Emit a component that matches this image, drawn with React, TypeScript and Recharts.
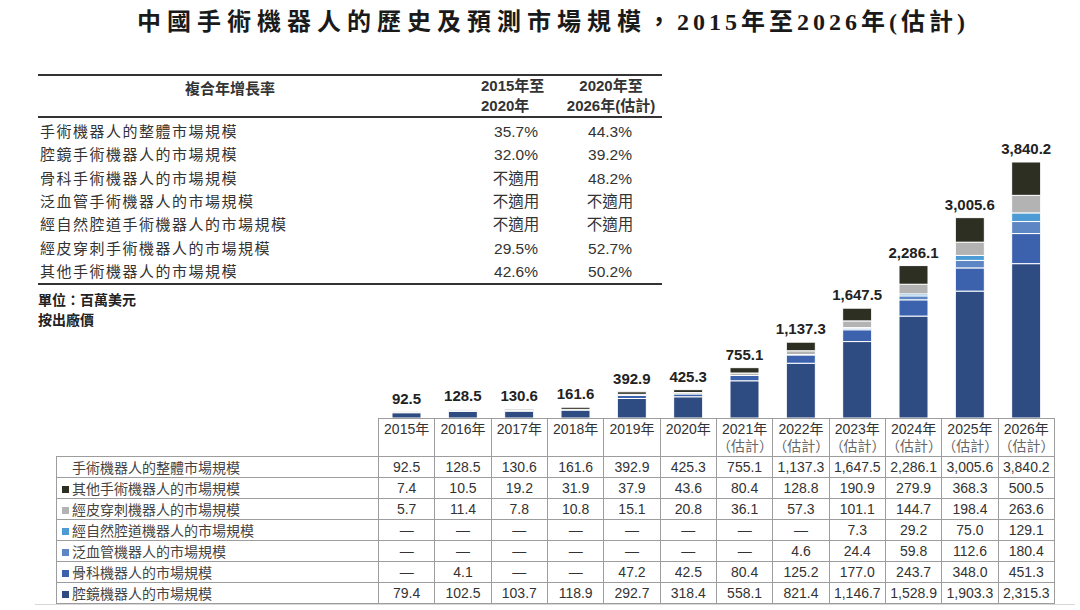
import React from 'react';
import { BarChart, Bar, XAxis, YAxis, LabelList } from 'recharts';

const years = ['2015年', '2016年', '2017年', '2018年', '2019年', '2020年', '2021年', '2022年', '2023年', '2024年', '2025年', '2026年'];
const estimated = [false, false, false, false, false, false, true, true, true, true, true, true];

const totalSize = [92.5, 128.5, 130.6, 161.6, 392.9, 425.3, 755.1, 1137.3, 1647.5, 2286.1, 3005.6, 3840.2];
const otherSize = [7.4, 10.5, 19.2, 31.9, 37.9, 43.6, 80.4, 128.8, 190.9, 279.9, 368.3, 500.5];
const percutaneousSize = [5.7, 11.4, 7.8, 10.8, 15.1, 20.8, 36.1, 57.3, 101.1, 144.7, 198.4, 263.6];
const naturalOrificeSize = [null, null, null, null, null, null, null, null, 7.3, 29.2, 75.0, 129.1];
const panVascularSize = [null, null, null, null, null, null, null, 4.6, 24.4, 59.8, 112.6, 180.4];
const orthopedicSize = [null, 4.1, null, null, 47.2, 42.5, 80.4, 125.2, 177.0, 243.7, 348.0, 451.3];
const laparoscopicSize = [79.4, 102.5, 103.7, 118.9, 292.7, 318.4, 558.1, 821.4, 1146.7, 1528.9, 1903.3, 2315.3];

const cagrLabels = [
  '手術機器人的整體市場規模',
  '腔鏡手術機器人的市場規模',
  '骨科手術機器人的市場規模',
  '泛血管手術機器人的市場規模',
  '經自然腔道手術機器人的市場規模',
  '經皮穿刺手術機器人的市場規模',
  '其他手術機器人的市場規模',
];
const cagr2015to2020 = ['35.7%', '32.0%', '不適用', '不適用', '不適用', '29.5%', '42.6%'];
const cagr2020to2026 = ['44.3%', '39.2%', '48.2%', '不適用', '不適用', '52.7%', '50.2%'];

const COLORS = {
  other: '#2d2f22',
  percutaneous: '#b3b3b3',
  naturalOrifice: '#4c9bd5',
  panVascular: '#5c86c4',
  orthopedic: '#3c62ae',
  laparoscopic: '#2e4b82',
};

const tableRows = [
  { label: '手術機器人的整體市場規模', values: totalSize, color: null },
  { label: '其他手術機器人的市場規模', values: otherSize, color: COLORS.other },
  { label: '經皮穿刺機器人的市場規模', values: percutaneousSize, color: COLORS.percutaneous },
  { label: '經自然腔道機器人的市場規模', values: naturalOrificeSize, color: COLORS.naturalOrifice },
  { label: '泛血管機器人的市場規模', values: panVascularSize, color: COLORS.panVascular },
  { label: '骨科機器人的市場規模', values: orthopedicSize, color: COLORS.orthopedic },
  { label: '腔鏡機器人的市場規模', values: laparoscopicSize, color: COLORS.laparoscopic },
];

const chartData = years.map((year, i) => ({
  year,
  total: totalSize[i],
  other: otherSize[i],
  percutaneous: percutaneousSize[i],
  naturalOrifice: naturalOrificeSize[i] ?? 0,
  panVascular: panVascularSize[i] ?? 0,
  orthopedic: orthopedicSize[i] ?? 0,
  laparoscopic: laparoscopicSize[i],
}));

const fmt = (v: number | null) =>
  v == null ? '—' : v.toLocaleString('en-US', { minimumFractionDigits: 1, maximumFractionDigits: 1 });

const SANS = "'Liberation Sans', 'Noto Sans CJK TC', sans-serif";
const BORDER = '1px solid #9d9d9d';

function TotalLabel(props: any) {
  const { x, y, width, value } = props;
  return (
    <text x={x + width / 2} y={y - 8} textAnchor="middle" fontFamily={SANS} fontWeight={700} fontSize={15} fill="#222">
      {fmt(Number(value))}
    </text>
  );
}

function CagrTable() {
  const rowTop = 120;
  const rowH = 23.3;
  const nw: React.CSSProperties = { position: 'absolute', whiteSpace: 'nowrap' };
  return (
    <div style={{ position: 'absolute', left: 0, top: 0, fontFamily: SANS, color: '#333' }}>
      <div style={{ position: 'absolute', left: 38, top: 74, width: 624, borderTop: '2px solid #333' }} />
      <div style={{ ...nw, left: 38, top: 77, width: 384, textAlign: 'center', fontWeight: 700, fontSize: 15 }}>複合年增長率</div>
      <div style={{ ...nw, left: 481, top: 76, fontWeight: 700, fontSize: 15, lineHeight: '20px' }}>
        2015年至<br />2020年
      </div>
      <div style={{ ...nw, left: 551, top: 76, width: 120, textAlign: 'center', fontWeight: 700, fontSize: 15, lineHeight: '20px' }}>
        2020年至<br />2026年(估計)
      </div>
      <div style={{ position: 'absolute', left: 38, top: 116, width: 624, borderTop: '2px solid #333' }} />
      {cagrLabels.map((label, i) => (
        <React.Fragment key={label}>
          <div style={{ ...nw, left: 40, top: rowTop + i * rowH, fontSize: 15, letterSpacing: 1.5, lineHeight: `${rowH}px` }}>{label}</div>
          <div style={{ ...nw, left: 466, width: 100, top: rowTop + i * rowH, textAlign: 'center', fontSize: 15.5, lineHeight: `${rowH}px` }}>{cagr2015to2020[i]}</div>
          <div style={{ ...nw, left: 560, width: 100, top: rowTop + i * rowH, textAlign: 'center', fontSize: 15.5, lineHeight: `${rowH}px` }}>{cagr2020to2026[i]}</div>
        </React.Fragment>
      ))}
      <div style={{ position: 'absolute', left: 38, top: 283, width: 624, borderTop: '2px solid #333' }} />
      <div style={{ ...nw, left: 38, top: 290, fontWeight: 700, fontSize: 14, lineHeight: '20px', color: '#222' }}>
        單位：百萬美元<br />按出廠價
      </div>
    </div>
  );
}

function DataTable() {
  const colW = 676 / 12;
  const cell: React.CSSProperties = { border: BORDER, textAlign: 'center', padding: 0, height: 19.9, fontSize: 14, color: '#333', whiteSpace: 'nowrap' };
  return (
    <table
      style={{
        position: 'absolute', left: 56, top: 418, borderCollapse: 'collapse', tableLayout: 'fixed',
        width: 322 + 676, fontFamily: SANS,
      }}
    >
      <colgroup>
        <col style={{ width: 322 }} />
        {years.map((y) => <col key={y} style={{ width: colW }} />)}
      </colgroup>
      <tbody>
        <tr>
          <td style={{ border: 'none', height: 35, padding: 0 }} />
          {years.map((y, i) => (
            <td key={y} style={{ ...cell, height: 35, verticalAlign: 'top', paddingTop: 2, fontSize: 14, lineHeight: '17px' }}>
              {y}
              {estimated[i] && <div style={{ color: '#666' }}>（估計）</div>}
            </td>
          ))}
        </tr>
        {tableRows.map((row) => (
          <tr key={row.label}>
            <td style={{ ...cell, textAlign: 'left', fontSize: 14, color: '#444', paddingLeft: 5 }}>
              <span style={{ display: 'inline-block', width: 7, height: 7, marginRight: 3, background: row.color ?? 'transparent', verticalAlign: 'middle', position: 'relative', top: -1 }} />
              {row.label}
            </td>
            {row.values.map((v, i) => (
              <td key={i} style={cell}>{fmt(v)}</td>
            ))}
          </tr>
        ))}
      </tbody>
    </table>
  );
}

export default function App() {
  return (
    <div style={{ position: 'absolute', left: 0, top: 0, width: 1080, height: 610, background: '#fff', overflow: 'hidden' }}>
      <div
        style={{
          position: 'absolute', left: 137, top: 7, whiteSpace: 'nowrap', fontFamily: "'Liberation Serif', 'Noto Sans CJK TC', serif",
          fontWeight: 700, fontSize: 24, color: '#1a1a1a', lineHeight: '30px',
        }}
      >
        <span style={{ letterSpacing: 6 }}>中國手術機器人的歷史及預測市場規模，</span>
        <span style={{ letterSpacing: 4 }}>2015年至2026年(估計)</span>
      </div>

      <CagrTable />

      <div style={{ position: 'absolute', left: 378, top: 110 }}>
        <BarChart width={676} height={308} data={chartData} margin={{ top: 0, right: 0, bottom: 0, left: 0 }} barSize={29}>
          <XAxis dataKey="year" hide />
          <YAxis hide domain={[0, 4620]} />
          <Bar dataKey="laparoscopic" stackId="a" fill={COLORS.laparoscopic} stroke="#fff" strokeWidth={1} isAnimationActive={false} />
          <Bar dataKey="orthopedic" stackId="a" fill={COLORS.orthopedic} stroke="#fff" strokeWidth={1} isAnimationActive={false} />
          <Bar dataKey="panVascular" stackId="a" fill={COLORS.panVascular} stroke="#fff" strokeWidth={1} isAnimationActive={false} />
          <Bar dataKey="naturalOrifice" stackId="a" fill={COLORS.naturalOrifice} stroke="#fff" strokeWidth={1} isAnimationActive={false} />
          <Bar dataKey="percutaneous" stackId="a" fill={COLORS.percutaneous} stroke="#fff" strokeWidth={1} isAnimationActive={false} />
          <Bar dataKey="other" stackId="a" fill={COLORS.other} stroke="#fff" strokeWidth={1} isAnimationActive={false}>
            <LabelList dataKey="total" content={<TotalLabel />} />
          </Bar>
        </BarChart>
      </div>

      <DataTable />
      <div style={{ position: 'absolute', left: 35, top: 604, width: 1040, borderTop: '1px solid #d8d8d8' }} />
    </div>
  );
}
